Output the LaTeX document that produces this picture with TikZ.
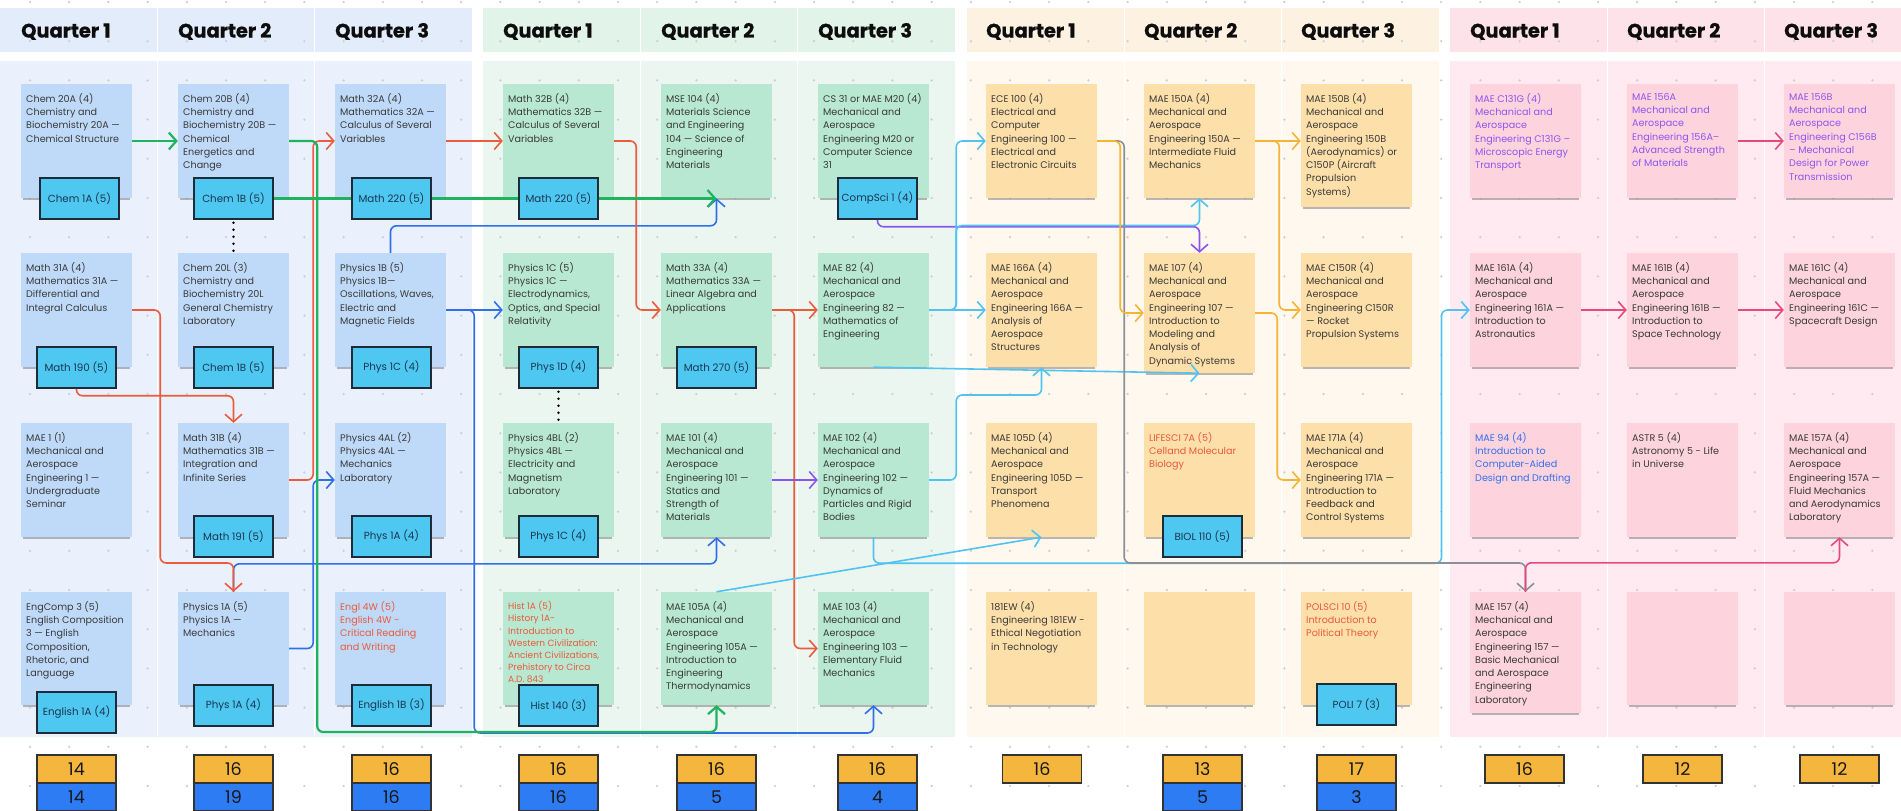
\documentclass[tikz,border=0pt]{standalone}
\usepackage{fontspec}
\setmainfont{Poppins}
\newfontfamily\headfont{Poppins}[UprightFont={* Bold}, FakeBold=0.8]
\usetikzlibrary{arrows.meta}

% panel, card and line colours
\definecolor{hY1}{HTML}{E3ECFA}\definecolor{bY1}{HTML}{EAF1FC}\definecolor{cY1}{HTML}{BFDAF8}
\definecolor{hY2}{HTML}{E2F3E9}\definecolor{bY2}{HTML}{EAF6EF}\definecolor{cY2}{HTML}{B8E8D1}
\definecolor{hY3}{HTML}{FDF2E2}\definecolor{bY3}{HTML}{FEF8EF}\definecolor{cY3}{HTML}{FDDFAA}
\definecolor{hY4}{HTML}{FDE2E9}\definecolor{bY4}{HTML}{FEEAF0}\definecolor{cY4}{HTML}{FDD3DE}
\definecolor{reqfill}{HTML}{4EC8F1}\definecolor{reqline}{HTML}{1E2B38}\definecolor{reqtext}{HTML}{1B3550}
\definecolor{uorange}{HTML}{F5B63D}\definecolor{ublue}{HTML}{2D7CF3}
\definecolor{cgreen}{HTML}{1FB35F}\definecolor{cred}{HTML}{EC5B3B}\definecolor{cblue}{HTML}{2F6FEB}
\definecolor{ccyan}{HTML}{52C3F1}\definecolor{cpurple}{HTML}{8A55EE}\definecolor{camber}{HTML}{F5B433}
\definecolor{cgrey}{HTML}{8C9096}\definecolor{cpink}{HTML}{E8497C}
\definecolor{tx}{HTML}{3A3A3A}\definecolor{tr}{HTML}{EA5A3C}\definecolor{tp}{HTML}{8F55EE}\definecolor{tb}{HTML}{3370EC}
\definecolor{griddot}{HTML}{C9CED6}

% course card: [text options]{name}{left x}{top y}{height}{fill}{text colour}{text}
\newcommand{\coursecard}[8][]{%
  \node[card, fill=#6, minimum height=#5pt] (#2) at (#3+55.5, #4+#5/2) {};
  \draw[cardshade] ([xshift=2pt,yshift=-0.8pt]#2.south west) -- ([xshift=-2pt,yshift=-0.8pt]#2.south east);
  \node[cardtext, text=#7, #1] (#2-t) at (#3+5, #4+9) {#8};
}
% prerequisite box: {name}{centre x}{centre y}{text}
\newcommand{\reqbox}[4]{\node[req] (#1) at (#2,#3) {#4};}
% unit totals: {name}{centre x}{upper}{lower}
\newcommand{\unitpair}[4]{%
  \node[unitbox, fill=uorange] (#1-a) at (#2,769) {#3};
  \node[unitbox, fill=ublue] (#1-b) at (#2,797) {#4};
}
\newcommand{\unitsingle}[3]{\node[unitbox, fill=uorange] (#1-a) at (#2,769) {#3};}

\begin{document}
\begin{tikzpicture}[x=1pt,y=-1pt,
  card/.style={rectangle, inner sep=0pt, minimum width=111pt, draw=none},
  cardshade/.style={draw=black!60, line width=1.6pt, opacity=0.45},
  cardtext/.style={anchor=north west, inner sep=0pt, align=left, font=\fontsize{9.6}{13.3}\selectfont},
  req/.style={rectangle, draw=reqline, line width=1.5pt, fill=reqfill, minimum width=79pt, minimum height=41pt, inner sep=0pt, text=reqtext, font=\fontsize{10.3}{12}\selectfont},
  unitbox/.style={rectangle, draw=black!80, line width=1.4pt, minimum width=79pt, minimum height=28pt, inner sep=0pt, text=black!90, font=\fontsize{17.5}{17.5}\selectfont},
  qhead/.style={anchor=base west, inner sep=0pt, text=black!95, font=\fontsize{19.4}{21}\headfont},
  link/.style={line width=1.6pt, rounded corners=6pt, -{Straight Barb[length=7.5pt,width=17pt]}},
  lgreen/.style={link, draw=cgreen, line width=2.2pt},
  lred/.style={link, draw=cred},
  lblue/.style={link, draw=cblue},
  lcyan/.style={link, draw=ccyan},
  lpurple/.style={link, draw=cpurple},
  lamber/.style={link, draw=camber},
  lgrey/.style={link, draw=cgrey},
  lpink/.style={link, draw=cpink},
  dotline/.style={draw=black, line width=2.6pt, line cap=round, dash pattern=on 0pt off 7pt}
]
\useasboundingbox (0,0) rectangle (1901,811);
\fill[white] (0,0) rectangle (1901,811);

% year panels: header band and body for each quarter column
\foreach \gx/\hc/\bc in {0/hY1/bY1, 483/hY2/bY2, 967/hY3/bY3, 1450/hY4/bY4} {
  \foreach \c in {0,157.5,315} {
    \fill[\hc] (\gx+\c, 8) rectangle ++(156.5, 44);
    \fill[\bc] (\gx+\c, 61) rectangle ++(156.5, 676);
  }
}

% dotted canvas grid
\foreach \i in {0,...,48} {
  \foreach \j in {0,...,20} {
    \fill[griddot] (30+39.2*\i, 2+39.2*\j) circle[radius=1.25pt];
  }
}

% quarter headings
\foreach \hx/\q [count=\k] in {21/1,178/2,335/3,503/1,661/2,818/3,986/1,1144/2,1301/3,1470/1,1627/2,1784/3} {
  \node[qhead] (head\k) at (\hx,37.5) {Quarter \q};
}

% ---- year 1 ----
\coursecard{chemA}{21}{84}{114}{cY1}{tx}{Chem 20A (4)\\Chemistry and\\Biochemistry 20A —\\Chemical Structure}
\coursecard{mathA}{21}{253}{114}{cY1}{tx}{Math 31A (4)\\Mathematics 31A —\\Differential and\\Integral Calculus}
\coursecard{mae1}{21}{423}{114}{cY1}{tx}{MAE 1 (1)\\Mechanical and\\Aerospace\\Engineering 1 —\\Undergraduate\\Seminar}
\coursecard{engcomp}{21}{592}{113}{cY1}{tx}{EngComp 3 (5)\\English Composition\\3 — English\\Composition,\\Rhetoric, and\\Language}
\coursecard{chemB}{178}{84}{114}{cY1}{tx}{Chem 20B (4)\\Chemistry and\\Biochemistry 20B —\\Chemical\\Energetics and\\Change}
\coursecard{chemL}{178}{253}{114}{cY1}{tx}{Chem 20L (3)\\Chemistry and\\Biochemistry 20L\\General Chemistry\\Laboratory}
\coursecard{mathB}{178}{423}{114}{cY1}{tx}{Math 31B (4)\\Mathematics 31B —\\Integration and\\Infinite Series}
\coursecard{physA}{178}{592}{113}{cY1}{tx}{Physics 1A (5)\\Physics 1A —\\Mechanics}
\coursecard{mathC}{335}{84}{114}{cY1}{tx}{Math 32A (4)\\Mathematics 32A —\\Calculus of Several\\Variables}
\coursecard{physB}{335}{253}{114}{cY1}{tx}{Physics 1B (5)\\Physics 1B—\\Oscillations, Waves,\\Electric and\\Magnetic Fields}
\coursecard{phys4al}{335}{423}{114}{cY1}{tx}{Physics 4AL (2)\\Physics 4AL —\\Mechanics\\Laboratory}
\coursecard{engl4w}{335}{592}{113}{cY1}{tr}{Engl 4W (5)\\English 4W -\\Critical Reading\\and Writing}

% ---- year 2 ----
\coursecard{mathD}{503}{84}{114}{cY2}{tx}{Math 32B (4)\\Mathematics 32B —\\Calculus of Several\\Variables}
\coursecard{physC}{503}{253}{114}{cY2}{tx}{Physics 1C (5)\\Physics 1C —\\Electrodynamics,\\Optics, and Special\\Relativity}
\coursecard{phys4bl}{503}{423}{114}{cY2}{tx}{Physics 4BL (2)\\Physics 4BL —\\Electricity and\\Magnetism\\Laboratory}
\coursecard[font=\fontsize{9}{12.2}\selectfont]{hist1a}{503}{592}{113}{cY2}{tr}{Hist 1A (5)\\History 1A-\\Introduction to\\Western Civilization:\\Ancient Civilizations,\\Prehistory to Circa\\A.D. 843}
\coursecard{mse104}{661}{84}{114}{cY2}{tx}{MSE 104 (4)\\Materials Science\\and Engineering\\104 — Science of\\Engineering\\Materials}
\coursecard{math33a}{661}{253}{114}{cY2}{tx}{Math 33A (4)\\Mathematics 33A —\\Linear Algebra and\\Applications}
\coursecard{mae101}{661}{423}{114}{cY2}{tx}{MAE 101 (4)\\Mechanical and\\Aerospace\\Engineering 101 —\\Statics and\\Strength of\\Materials}
\coursecard{mae105a}{661}{592}{113}{cY2}{tx}{MAE 105A (4)\\Mechanical and\\Aerospace\\Engineering 105A —\\Introduction to\\Engineering\\Thermodynamics}
\coursecard{cs31}{818}{84}{114}{cY2}{tx}{CS 31 or MAE M20 (4)\\Mechanical and\\Aerospace\\Engineering M20 or\\Computer Science\\31}
\coursecard{mae82}{818}{253}{114}{cY2}{tx}{MAE 82 (4)\\Mechanical and\\Aerospace\\Engineering 82 —\\Mathematics of\\Engineering}
\coursecard{mae102}{818}{423}{114}{cY2}{tx}{MAE 102 (4)\\Mechanical and\\Aerospace\\Engineering 102 —\\Dynamics of\\Particles and Rigid\\Bodies}
\coursecard{mae103}{818}{592}{113}{cY2}{tx}{MAE 103 (4)\\Mechanical and\\Aerospace\\Engineering 103 —\\Elementary Fluid\\Mechanics}

% ---- year 3 ----
\coursecard{ece100}{986}{84}{114}{cY3}{tx}{ECE 100 (4)\\Electrical and\\Computer\\Engineering 100 —\\Electrical and\\Electronic Circuits}
\coursecard{mae166a}{986}{253}{114}{cY3}{tx}{MAE 166A (4)\\Mechanical and\\Aerospace\\Engineering 166A —\\Analysis of\\Aerospace\\Structures}
\coursecard{mae105d}{986}{423}{114}{cY3}{tx}{MAE 105D (4)\\Mechanical and\\Aerospace\\Engineering 105D —\\Transport\\Phenomena}
\coursecard{eng181}{986}{592}{113}{cY3}{tx}{181EW (4)\\Engineering 181EW -\\Ethical Negotiation\\in Technology}
\coursecard{mae150a}{1144}{84}{114}{cY3}{tx}{MAE 150A (4)\\Mechanical and\\Aerospace\\Engineering 150A —\\Intermediate Fluid\\Mechanics}
\coursecard{mae107}{1144}{253}{120}{cY3}{tx}{MAE 107 (4)\\Mechanical and\\Aerospace\\Engineering 107 —\\Introduction to\\Modeling and\\Analysis of\\Dynamic Systems}
\coursecard{lifesci}{1144}{423}{114}{cY3}{tr}{LIFESCI 7A (5)\\Celland Molecular\\Biology}
\coursecard{blankC}{1144}{592}{113}{cY3}{tx}{}
\coursecard{mae150b}{1301}{84}{123}{cY3}{tx}{MAE 150B (4)\\Mechanical and\\Aerospace\\Engineering 150B\\(Aerodynamics) or\\C150P (Aircraft\\Propulsion\\Systems)}
\coursecard{maec150r}{1301}{253}{114}{cY3}{tx}{MAE C150R (4)\\Mechanical and\\Aerospace\\Engineering C150R\\— Rocket\\Propulsion Systems}
\coursecard{mae171a}{1301}{423}{114}{cY3}{tx}{MAE 171A (4)\\Mechanical and\\Aerospace\\Engineering 171A —\\Introduction to\\Feedback and\\Control Systems}
\coursecard{polsci}{1301}{592}{113}{cY3}{tr}{POLSCI 10 (5)\\Introduction to\\Political Theory}

% ---- year 4 ----
\coursecard{maec131g}{1470}{84}{114}{cY4}{tp}{MAE C131G (4)\\Mechanical and\\Aerospace\\Engineering C131G –\\Microscopic Energy\\Transport}
\coursecard{mae161a}{1470}{253}{114}{cY4}{tx}{MAE 161A (4)\\Mechanical and\\Aerospace\\Engineering 161A —\\Introduction to\\Astronautics}
\coursecard{mae94}{1470}{423}{114}{cY4}{tb}{MAE 94 (4)\\Introduction to\\Computer-Aided\\Design and Drafting}
\coursecard{mae157}{1470}{592}{121}{cY4}{tx}{MAE 157 (4)\\Mechanical and\\Aerospace\\Engineering 157 —\\Basic Mechanical\\and Aerospace\\Engineering\\Laboratory}
\coursecard{mae156a}{1627}{84}{114}{cY4}{tp}{MAE 156A\\Mechanical and\\Aerospace\\Engineering 156A–\\Advanced Strength\\of Materials}
\coursecard{mae161b}{1627}{253}{114}{cY4}{tx}{MAE 161B (4)\\Mechanical and\\Aerospace\\Engineering 161B —\\Introduction to\\Space Technology}
\coursecard{astr5}{1627}{423}{114}{cY4}{tx}{ASTR 5 (4)\\Astronomy 5 - Life\\in Universe}
\coursecard{blankD}{1627}{592}{113}{cY4}{tx}{}
\coursecard{mae156b}{1784}{84}{114}{cY4}{tp}{MAE 156B\\Mechanical and\\Aerospace\\Engineering C156B\\– Mechanical\\Design for Power\\Transmission}
\coursecard{mae161c}{1784}{253}{114}{cY4}{tx}{MAE 161C (4)\\Mechanical and\\Aerospace\\Engineering 161C —\\Spacecraft Design}
\coursecard{mae157a}{1784}{423}{114}{cY4}{tx}{MAE 157A (4)\\Mechanical and\\Aerospace\\Engineering 157A —\\Fluid Mechanics\\and Aerodynamics\\Laboratory}
\coursecard{blankE}{1784}{592}{113}{cY4}{tx}{}

% ---- prerequisite boxes that connectors start from or pass beside ----
\reqbox{chemA-r}{79.5}{198.5}{Chem 1A (5)}
\reqbox{mathA-r}{76.5}{367.5}{Math 190 (5)}
\reqbox{engcomp-r}{76.5}{712.5}{English 1A (4)}
\reqbox{chemB-r}{233.5}{198.5}{Chem 1B (5)}
\reqbox{chemL-r}{233.5}{367.5}{Chem 1B (5)}
\reqbox{mathB-r}{233.5}{536.5}{Math 191 (5)}
\reqbox{physA-r}{233.5}{705.5}{Phys 1A (4)}
\reqbox{physB-r}{391.5}{367.5}{Phys 1C (4)}
\reqbox{phys4al-r}{391.5}{536.5}{Phys 1A (4)}
\reqbox{engl4w-r}{391.5}{705.5}{English 1B (3)}
\reqbox{physC-r}{558.5}{367.5}{Phys 1D (4)}
\reqbox{phys4bl-r}{558.5}{536.5}{Phys 1C (4)}
\reqbox{hist1a-r}{558.5}{705.5}{Hist 140 (3)}
\reqbox{math33a-r}{716.5}{367.5}{Math 270 (5)}
\reqbox{cs31-r}{877.5}{198.5}{CompSci 1 (4)}
\reqbox{lifesci-r}{1202.5}{536.5}{BIOL 110 (5)}
\reqbox{polsci-r}{1356.5}{704.5}{POLI 7 (3)}

% ---- connectors ----
% blue
\draw[lblue] (physB.north) -- ++(0,-27) -| (mse104.south);
\draw[lblue] (physB.east) -- (physC.west);
\draw[lblue] (physB.east) -- ++(28,0) -- ++(0,423) -| (mae103.south);
\draw[lblue] (physA.north) -- ++(0,-28) -| (mae101.south);
\draw[lblue] (physA.east) -- ++(24,0) |- (phys4al.west);
% red
\draw[lred] (mathA.east) -- ++(28,0) -- ++(0,253) -| (physA.north);
\draw[lred] (mathA-r.south) -- ++(0,7) -| (mathB.north);
\draw[lred] (mathB.east) -- ++(24,0) |- (mathC.west);
\draw[lred] (mathC.east) -- (mathD.west);
\draw[lred] (mathD.east) -- ++(22,0) |- (math33a.west);
\draw[lred] (math33a.east) -- (mae82.west);
\draw[lred] (math33a.east) -- ++(22,0) |- (mae103.west);
% green
\draw[lgreen] (chemA.east) -- (chemB.west);
\draw[lgreen] (chemB.east) -- ++(28,0) -- ++(0,591) -| (mae105a.south);
\draw[lgreen] (chemB-r.east) -- (chemB-r.east -| mse104.south);
% purple
\draw[lpurple] (mae101.east) -- (mae102.west);
\draw[lpurple] (cs31-r.south) -- ++(0,7) -| (mae107.north);
% cyan
\draw[lcyan] (mae82.east) -- ++(27,0) |- (ece100.west);
\draw[lcyan] (mae82.east) -- (mae166a.west);
\draw[lcyan] (mae82.east) -- ++(27,0) -- ++(0,-84.5) -| (mae150a.south);
\draw[lcyan] (mae82.south) -- (mae107.south);
\draw[lcyan] (mae102.east) -- ++(27,0) -- ++(0,-85) -| (mae166a.south);
\draw[lcyan] (mae102.south) -- ++(0,26) -- ++(568,0) |- (mae161a.west);
\draw[lcyan] (mae105a.north) -- (mae105d.south);
% grey
\draw[lgrey] (ece100.east) -- ++(27,0) -- ++(0,422) -| (mae157.north);
% amber
\draw[lamber] (ece100.east) -- ++(23,0) |- (mae107.west);
\draw[lamber] (mae150a.east) -- (mae150a.east -| mae150b.west);
\draw[lamber] (mae150a.east) -- ++(24,0) |- (maec150r.west);
\draw[lamber] (mae107.east) -- ++(22,0) |- (mae171a.west);
% pink
\draw[lpink] (mae156a.east) -- (mae156b.west);
\draw[lpink] (mae161a.east) -- (mae161b.west);
\draw[lpink] (mae161b.east) -- (mae161c.west);
\draw[lpink] (mae157.north) -- ++(0,-29) -| (mae157a.south);

% prerequisite boxes lying over the green Chem 1B line
\reqbox{mathC-r}{391.5}{198.5}{Math 220 (5)}
\reqbox{mathD-r}{558.5}{198.5}{Math 220 (5)}

% co-requisite dotted links
\draw[dotline] ([yshift=-3pt]chemB-r.south) -- (chemL.north);
\draw[dotline] ([yshift=-3pt]physC-r.south) -- (phys4bl.north);

% ---- unit totals per quarter ----
\unitpair{u1}{76.5}{14}{14}
\unitpair{u2}{233.5}{16}{19}
\unitpair{u3}{391.5}{16}{16}
\unitpair{u4}{558.5}{16}{16}
\unitpair{u5}{716.5}{16}{5}
\unitpair{u6}{877.5}{16}{4}
\unitsingle{u7}{1042}{16}
\unitpair{u8}{1202.5}{13}{5}
\unitpair{u9}{1356.5}{17}{3}
\unitsingle{u10}{1524.5}{16}
\unitsingle{u11}{1682.5}{12}
\unitsingle{u12}{1839.5}{12}
\end{tikzpicture}
\end{document}
